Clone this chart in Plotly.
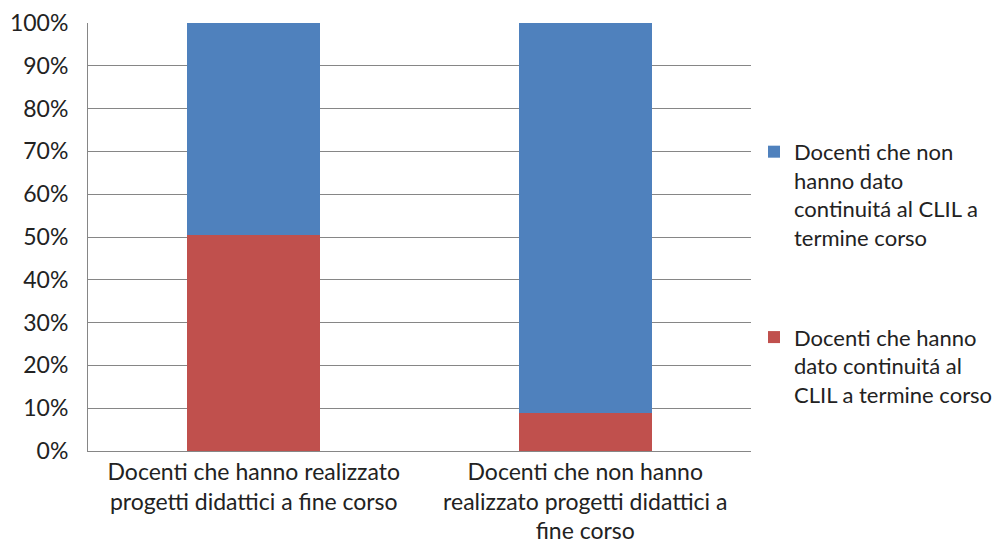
import plotly.graph_objects as go

# categories and stacked shares
categories = [
    "Docenti che hanno realizzato<br>progetti didattici a fine corso",
    "Docenti che non hanno<br>realizzato progetti didattici a<br>fine corso",
]
continuity_yes = [0.505, 0.088]
continuity_no = [0.495, 0.912]

name_yes = "Docenti che hanno<br>dato continuitá al<br>CLIL a termine corso"
name_no = "Docenti che non<br>hanno dato<br>continuitá al CLIL a<br>termine corso"

font_family = "Lato, Carlito, 'Open Sans', sans-serif"

fig = go.Figure()
fig.add_trace(go.Bar(
    x=categories, y=continuity_yes, name=name_yes,
    legendgroup="yes", legendrank=2,
    marker=dict(color="#c0504d", line=dict(width=0)),
    width=0.4,
))
fig.add_trace(go.Bar(
    x=categories, y=continuity_no, name=name_no,
    legendgroup="no", legendrank=1,
    marker=dict(color="#4f81bd", line=dict(width=0)),
    width=0.4,
))

# page body adds an 8px offset, so the figure is 8px smaller each way
fig.update_layout(
    barmode="stack",
    width=996, height=549,
    margin=dict(l=80, r=253, t=15, b=106),
    paper_bgcolor="white", plot_bgcolor="white",
    font=dict(family=font_family, size=23, color="#222222"),
    showlegend=True,
    legend=dict(
        xref="container", x=0.749, y=0.415, xanchor="left", yanchor="middle",
        traceorder="grouped", tracegroupgap=68, valign="top",
        font=dict(size=22), itemwidth=30,
    ),
    xaxis=dict(
        showline=True, linecolor="#868686", linewidth=1,
        ticks="", tickfont=dict(size=23), automargin=False,
    ),
    yaxis=dict(
        range=[0, 1], tickformat=".0%", dtick=0.1,
        showgrid=True, gridcolor="#868686", gridwidth=1,
        showline=True, linecolor="#868686", linewidth=1,
        zeroline=False, ticks="outside", ticklen=14, tickcolor="white",
        tickfont=dict(size=23), automargin=False,
    ),
)

fig.write_html("out.html")
